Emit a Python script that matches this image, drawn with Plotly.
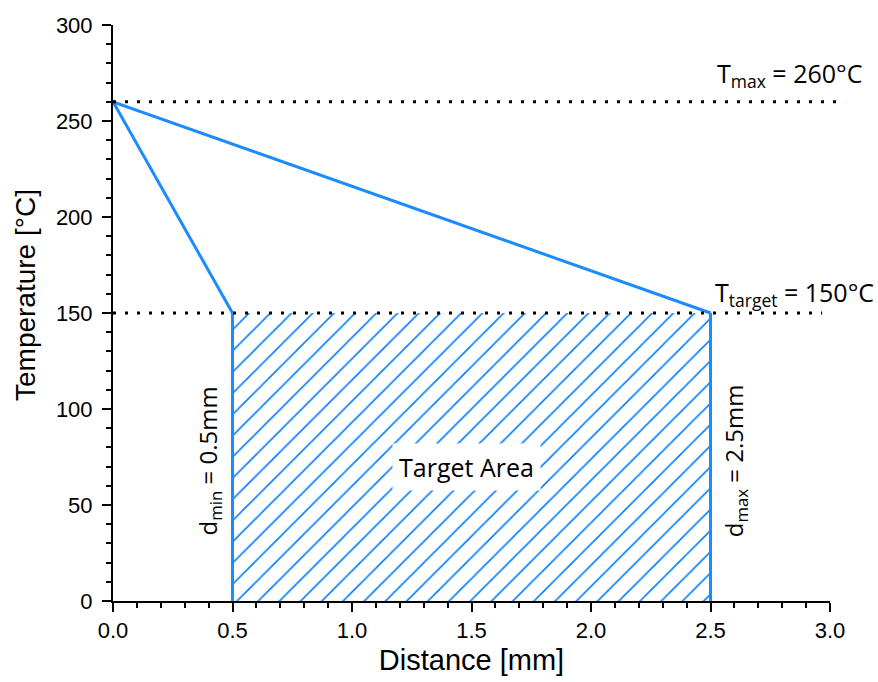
import plotly.graph_objects as go

# Process window values
T_MAX = 260          # maximum temperature [°C]
T_TARGET = 150       # target temperature [°C]
D_MIN = 0.5          # minimum distance [mm]
D_MAX = 2.5          # maximum distance [mm]

# Temperature falloff curves (distance [mm], temperature [°C])
fast_x = [0.0, D_MIN]
fast_y = [T_MAX, T_TARGET]
slow_x = [0.0, D_MAX]
slow_y = [T_MAX, T_TARGET]

# Target area polygon
area_x = [D_MIN, D_MAX, D_MAX, D_MIN, D_MIN]
area_y = [0, 0, T_TARGET, T_TARGET, 0]

x_ticks = [0.0, 0.5, 1.0, 1.5, 2.0, 2.5, 3.0]
y_ticks = [0, 50, 100, 150, 200, 250, 300]

BLUE = "#1a8cff"
TICK_FONT = dict(family="Liberation Sans, Arial, sans-serif", size=22, color="black")
TITLE_FONT = dict(family="Liberation Sans, Arial, sans-serif", size=28, color="black")
NOTE_FONT = dict(family="Open Sans, sans-serif", size=25, color="black")
SIDE_FONT = dict(family="Open Sans, sans-serif", size=24, color="black")

fig = go.Figure()

# Hatched target area
fig.add_trace(go.Scatter(
    x=area_x, y=area_y, mode="lines", fill="toself",
    line=dict(width=0, color=BLUE),
    fillcolor="white",
    fillpattern=dict(shape="/", fgcolor="#0a80ff", bgcolor="white", fgopacity=1,
                     fillmode="replace", size=15, solidity=0.11),
    hoverinfo="skip", showlegend=False,
))

# Boundaries of the target area
fig.add_trace(go.Scatter(x=[D_MIN, D_MIN], y=[0, T_TARGET], mode="lines",
                         line=dict(color=BLUE, width=3), showlegend=False))
fig.add_trace(go.Scatter(x=[D_MAX, D_MAX], y=[0, T_TARGET], mode="lines",
                         line=dict(color=BLUE, width=3), showlegend=False))

# Temperature falloff lines
fig.add_trace(go.Scatter(x=fast_x, y=fast_y, mode="lines",
                         line=dict(color=BLUE, width=3), showlegend=False))
fig.add_trace(go.Scatter(x=slow_x, y=slow_y, mode="lines",
                         line=dict(color=BLUE, width=3), showlegend=False))

# Dotted temperature reference lines
dotted = dict(color="black", width=3, dash="3px,9px")
fig.add_shape(type="line", xref="x domain", yref="y", x0=0.0, x1=1.021,
              y0=T_MAX, y1=T_MAX, line=dotted)
fig.add_shape(type="line", xref="x domain", yref="y", x0=0.0, x1=0.989,
              y0=T_TARGET, y1=T_TARGET, line=dotted)

# Labels
fig.add_annotation(x=2.52, y=T_MAX + 14, xref="x", yref="y",
                   text=f"T<sub>max</sub> = {T_MAX}°C", showarrow=False,
                   xanchor="left", yanchor="middle", font=NOTE_FONT)
fig.add_annotation(x=2.51, y=T_TARGET + 10, xref="x", yref="y",
                   text=f"T<sub>target</sub> = {T_TARGET}°C", showarrow=False,
                   xanchor="left", yanchor="middle", font=NOTE_FONT)
fig.add_annotation(x=D_MIN - 0.1, y=73, xref="x", yref="y",
                   text=f"d<sub>min</sub> = {D_MIN}mm", showarrow=False,
                   textangle=-90, xanchor="center", yanchor="middle", font=SIDE_FONT)
fig.add_annotation(x=D_MAX + 0.1, y=73, xref="x", yref="y",
                   text=f"d<sub>max</sub> = {D_MAX}mm", showarrow=False,
                   textangle=-90, xanchor="center", yanchor="middle", font=SIDE_FONT)
fig.add_annotation(x=1.48, y=70, xref="x", yref="y", text="Target Area",
                   showarrow=False, bgcolor="white", borderpad=6,
                   xanchor="center", yanchor="middle", font=NOTE_FONT)

# Axis titles
fig.add_annotation(x=25, y=295, xref="paper", yref="paper", text="Temperature [°C]",
                   showarrow=False, textangle=-90, xanchor="center", yanchor="middle",
                   font=TITLE_FONT)

axis_common = dict(
    showgrid=False, zeroline=False, showline=True, linecolor="black", linewidth=2,
    ticks="outside", ticklen=9, tickwidth=2, tickcolor="black",
    tickfont=TICK_FONT, mirror=False,
)

fig.update_xaxes(
    range=[0, 3], tickvals=x_ticks, ticktext=[f"{v:.1f}" for v in x_ticks],
    title=dict(text="Distance [mm]", font=dict(TITLE_FONT, size=29), standoff=7),
    minor=dict(dtick=0.1, ticks="outside", ticklen=5, tickwidth=2, tickcolor="black"),
    **axis_common,
)
fig.update_yaxes(
    range=[0, 300], tickvals=y_ticks, ticklabelstandoff=5,
    minor=dict(dtick=10, ticks="outside", ticklen=5, tickwidth=2, tickcolor="black"),
    **axis_common,
)

W, H = 878, 682
M = dict(l=113, r=48, t=25, b=81)
fig.update_layout(
    width=W, height=H,
    margin=M,
    plot_bgcolor="white", paper_bgcolor="white",
    showlegend=False,
)

# Convert the y-title pixel position to paper coordinates
plot_w = W - M["l"] - M["r"]
plot_h = H - M["t"] - M["b"]
ann = fig.layout.annotations[-1]
ann.x = (25 - M["l"]) / plot_w
ann.y = (H - M["b"] - 295) / plot_h

fig.write_html("out.html")
